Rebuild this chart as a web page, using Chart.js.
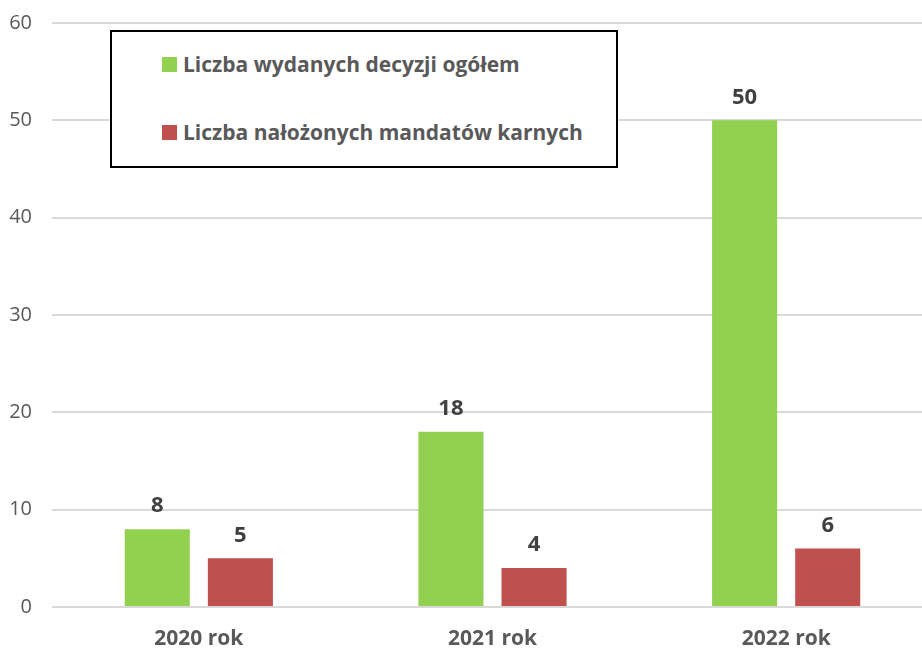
<!DOCTYPE html>
<html lang="pl">
<head>
<meta charset="utf-8">
<script src="https://cdn.jsdelivr.net/npm/chart.js@4"></script>
<style>
  html, body { margin: 0; padding: 0; background: #fff; overflow: hidden; }
  #wrap { position: relative; width: 922px; height: 649px; overflow: hidden; }
  #legend {
    position: absolute; left: 110px; top: 30px; width: 504px; height: 134px;
    border: 2px solid #000; background: #fff; box-sizing: content-box;
    font-family: "Open Sans", sans-serif; font-weight: bold; font-size: 21px; color: #595959;
  }
  #legend .item { position: absolute; left: 50px; display: flex; align-items: center; white-space: nowrap; }
  #legend .box { width: 15px; height: 15px; margin-right: 6px; }
</style>
</head>
<body>
<div id="wrap">
  <!-- płótno szersze niż okno: oryginał jest przycięty z prawej strony -->
  <canvas id="chart" width="933" height="649"></canvas>
  <div id="legend"></div>
</div>
<script>
// Dane z wykresu
const lata = ['2020 rok', '2021 rok', '2022 rok'];
const decyzjeOgolem = [8, 18, 50];
const mandatyKarne = [5, 4, 6];
const etykietySerii = ['Liczba wydanych decyzji ogółem', 'Liczba nałożonych mandatów karnych'];
const kolory = ['#92D050', '#C0504D'];

// Etykiety wartości nad słupkami
const wartosciNadSlupkami = {
  id: 'wartosciNadSlupkami',
  afterDatasetsDraw(chart) {
    const ctx = chart.ctx;
    ctx.save();
    ctx.font = 'bold 22px "Open Sans", sans-serif';
    ctx.fillStyle = '#404040';
    ctx.textAlign = 'center';
    ctx.textBaseline = 'middle';
    chart.data.datasets.forEach((ds, i) => {
      chart.getDatasetMeta(i).data.forEach((bar, j) => {
        ctx.fillText(ds.data[j], bar.x, bar.y - 23);
      });
    });
    ctx.restore();
  }
};

const ctx = document.getElementById('chart').getContext('2d');
const chart = new Chart(ctx, {
  type: 'bar',
  data: {
    labels: lata,
    datasets: [
      { label: etykietySerii[0], data: decyzjeOgolem, backgroundColor: kolory[0] },
      { label: etykietySerii[1], data: mandatyKarne, backgroundColor: kolory[1] }
    ]
  },
  options: {
    responsive: false,
    animation: false,
    categoryPercentage: 0.566,
    barPercentage: 0.783,
    layout: { padding: { top: 23, right: 0, bottom: 0, left: 0 } },
    plugins: {
      legend: { display: false },
      tooltip: { enabled: false }
    },
    scales: {
      x: {
        grid: { display: false, drawTicks: false },
        border: { display: false },
        ticks: {
          color: '#595959',
          font: { family: '"Open Sans", sans-serif', size: 21, weight: 'bold' },
          padding: 19
        },
        afterFit(scale) { scale.height = 42; }
      },
      y: {
        min: 0,
        max: 60,
        ticks: {
          stepSize: 10,
          color: '#595959',
          font: { family: '"Open Sans", sans-serif', size: 20 },
          padding: 20
        },
        grid: { color: '#d9d9d9', lineWidth: 2, drawTicks: false },
        border: { display: false },
        afterFit(scale) {
          scale.width = 52;
          scale.paddingTop = 0;
          scale.paddingBottom = 0;
        }
      }
    }
  },
  plugins: [wartosciNadSlupkami]
});

// Legenda w ramce
const legenda = document.getElementById('legend');
etykietySerii.forEach((tekst, i) => {
  const item = document.createElement('div');
  item.className = 'item';
  item.style.top = (i === 0 ? 18 : 86) + 'px';
  const box = document.createElement('span');
  box.className = 'box';
  box.style.background = kolory[i];
  const span = document.createElement('span');
  span.textContent = tekst;
  item.appendChild(box);
  item.appendChild(span);
  legenda.appendChild(item);
});
</script>
</body>
</html>
